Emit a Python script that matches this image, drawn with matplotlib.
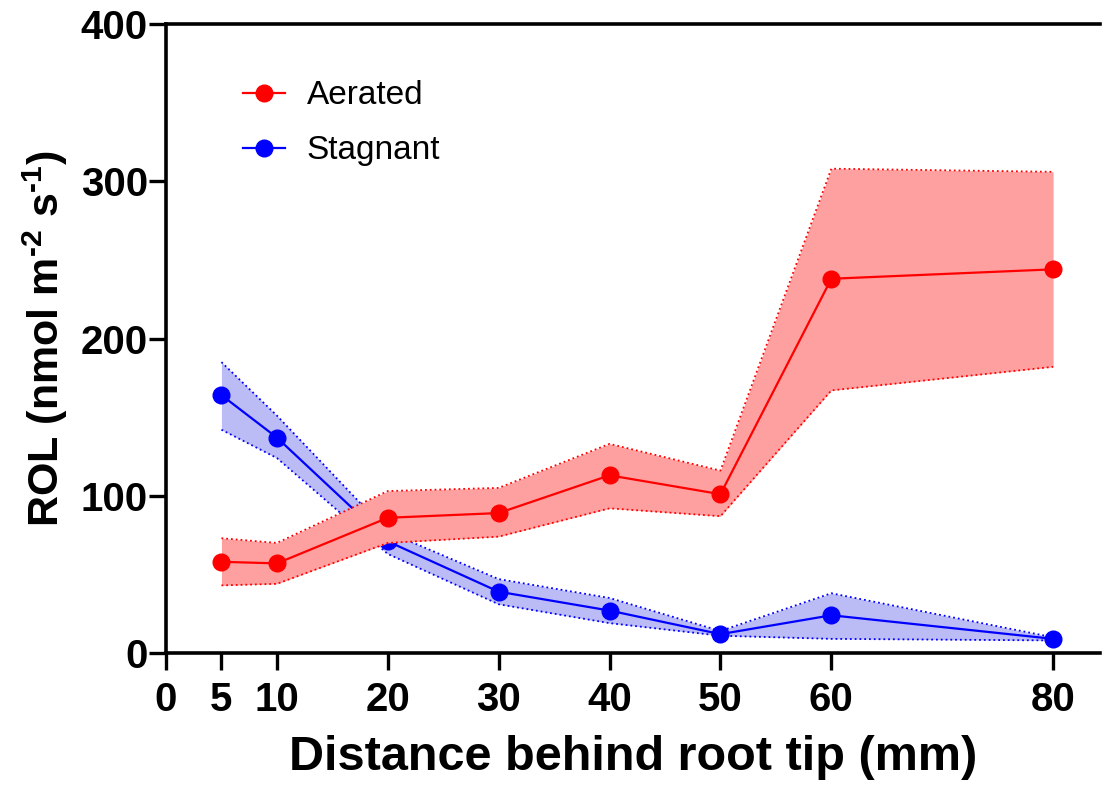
import matplotlib
matplotlib.use('Agg')
import matplotlib.pyplot as plt

# distance behind root tip (mm)
distance = [5, 10, 20, 30, 40, 50, 60, 80]

# Aerated: mean and band
aerated = [58, 57, 86, 89, 113, 101, 238, 244]
aerated_hi = [73, 70, 103, 105, 133, 116, 308, 306]
aerated_lo = [43, 44, 70, 74, 92, 87, 167, 182]

# Stagnant: mean and band
stagnant = [164, 137, 71, 39, 27, 12, 24, 9]
stagnant_hi = [185, 151, 77, 47, 35, 14, 38, 10]
stagnant_lo = [142, 124, 63, 31, 19, 11, 9, 8]

xticks = [0, 5, 10, 20, 30, 40, 50, 60, 80]
yticks = [0, 100, 200, 300, 400]

plt.rcParams['font.family'] = ['Liberation Sans', 'DejaVu Sans']
plt.rcParams['mathtext.fontset'] = 'custom'
plt.rcParams['mathtext.rm'] = 'Liberation Sans:bold'
plt.rcParams['mathtext.bf'] = 'Liberation Sans:bold'

fig = plt.figure(figsize=(11.03, 7.90), dpi=100)
ax = fig.add_axes([0.1505, 0.1734, 0.8465, 0.7962])

red = '#ff0000'
blue = '#0000ff'

ax.fill_between(distance, aerated_lo, aerated_hi, color='#ffa0a0', lw=0, zorder=1)
ax.plot(distance, aerated_hi, color=red, ls=':', lw=1.3, zorder=2)
ax.plot(distance, aerated_lo, color=red, ls=':', lw=1.3, zorder=2)

ax.fill_between(distance, stagnant_lo, stagnant_hi, color='#bbbbf6', lw=0, zorder=0.5)
ax.plot(distance, stagnant_hi, color=blue, ls=':', lw=1.3, zorder=0.6)
ax.plot(distance, stagnant_lo, color=blue, ls=':', lw=1.3, zorder=0.6)

ax.plot(distance, stagnant, color=blue, marker='o', ms=12, lw=1.6, label='Stagnant', zorder=0.8)
ax.plot(distance, aerated, color=red, marker='o', ms=12, lw=1.6, label='Aerated', zorder=3)

ax.set_xlim(0, 84.2)
ax.set_ylim(0, 400)
ax.set_xticks(xticks)
ax.set_yticks(yticks)

for s in ['left', 'bottom', 'top']:
    ax.spines[s].set_linewidth(2.6)
ax.spines['right'].set_visible(False)
ax.tick_params(axis='both', length=12, width=2.4, labelsize=29)
ax.tick_params(axis='x', pad=8)
ax.tick_params(axis='y', pad=1)
for lab in ax.get_xticklabels() + ax.get_yticklabels():
    lab.set_fontweight('bold')

ax.set_xlabel('Distance behind root tip (mm)', fontsize=35, fontweight='bold', labelpad=12)
ax.set_ylabel(r'ROL (nmol m$^{\text{-}2}$ s$^{\text{-}1}$)', fontsize=31, fontweight='bold', labelpad=8)

h, l = ax.get_legend_handles_labels()
leg = ax.legend(h[::-1], l[::-1], loc='upper left', bbox_to_anchor=(0.0505, 0.958),
                frameon=False, fontsize=24, handlelength=1.25, handletextpad=0.65,
                labelspacing=0.72)

fig.savefig('out.png', dpi=100)
